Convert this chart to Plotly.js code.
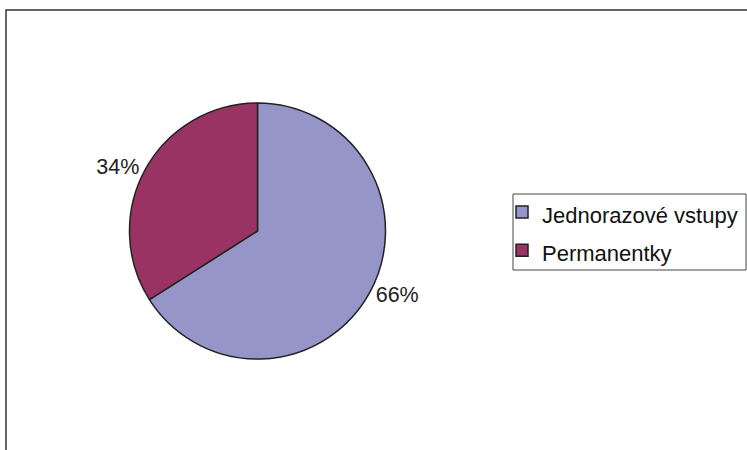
<!DOCTYPE html>
<html>
<head>
<meta charset="utf-8">
<script src="https://cdn.plot.ly/plotly-3.0.1.min.js"></script>
<style>html,body{margin:0;padding:0;background:#fff;}#chart{width:747px;height:450px;}</style>
</head>
<body>
<div id="chart"></div>
<script>
var categories = ["Jednorazové vstupy", "Permanentky"];
var values = [66, 34];
var colors = ["#9595c8", "#993363"];

var W = 747, H = 450;
function px(x){ return x / W; }
function py(y){ return 1 - y / H; }

var cx = 257.5, cy = 231, r = 128;

var trace = {
  type: "pie",
  labels: categories.map(function(c){ return '<span style="font-size:22px">' + c + '</span>'; }),
  values: values,
  sort: false,
  direction: "clockwise",
  rotation: 0,
  marker: { colors: colors, line: { color: "#222222", width: 1.5 } },
  textinfo: "percent",
  texttemplate: "%{percent:.0%}",
  textposition: "outside",
  outsidetextfont: { family: "Liberation Sans, Arial, sans-serif", size: 21.5, color: "#222222" },
  domain: { x: [px(cx - r), px(cx + r)], y: [py(cy + r), py(cy - r)] },
  hoverinfo: "label+percent"
};

var layout = {
  width: W, height: H,
  margin: { l: 0, r: 0, t: 0, b: 0 },
  paper_bgcolor: "#ffffff",
  showlegend: true,
  font: { family: "Liberation Sans, Arial, sans-serif", color: "#111111" },
  legend: {
    x: px(502), y: py(188), xanchor: "left", yanchor: "top",
    font: { size: 27, family: "Liberation Sans, Arial, sans-serif", color: "#111111" },
    bgcolor: "rgba(0,0,0,0)", borderwidth: 0
  },
  shapes: [
    { type: "rect", xref: "paper", yref: "paper", x0: px(6), x1: px(770), y0: py(10), y1: py(470),
      line: { color: "#333333", width: 1.5 }, fillcolor: "rgba(0,0,0,0)", layer: "below" },
    { type: "rect", xref: "paper", yref: "paper", x0: px(513), x1: px(746), y0: py(194), y1: py(270),
      line: { color: "#444444", width: 1 }, fillcolor: "rgba(0,0,0,0)", layer: "below" }
  ]
};

Plotly.newPlot("chart", [trace], layout, { displayModeBar: false, staticPlot: true });
</script>
</body>
</html>
